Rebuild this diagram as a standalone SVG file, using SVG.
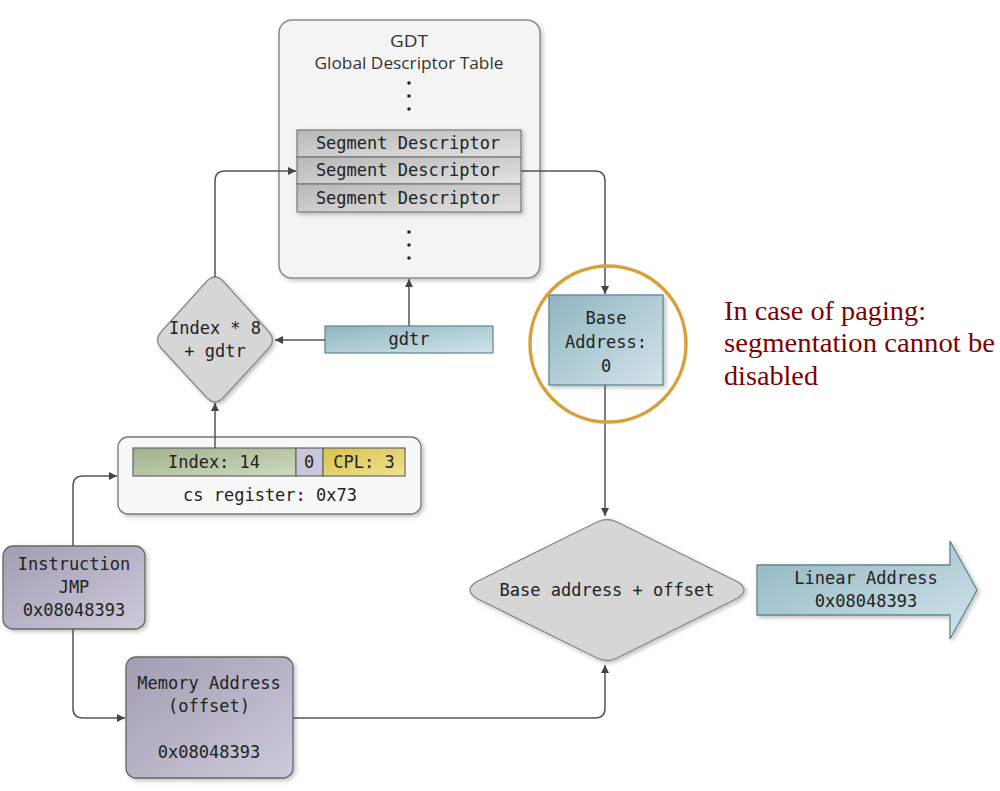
<svg xmlns="http://www.w3.org/2000/svg" width="1000" height="791" viewBox="0 0 1000 791">
<defs>
<style>
.mono{font-family:"DejaVu Sans Mono","Liberation Mono",monospace;font-size:17px;fill:#222;text-anchor:middle}
.sans{font-family:"Open Sans","Noto Sans",sans-serif;font-size:16px;fill:#333;text-anchor:middle}
.note{font-family:"Liberation Serif","DejaVu Serif",serif;font-size:27px;fill:#800000}
.conn{fill:none;stroke:#555;stroke-width:1.5}
.dot{fill:#222}
</style>
<linearGradient id="gGrey" x1="0" y1="0" x2="1" y2="1"><stop offset="0" stop-color="#b8b8b8"/><stop offset="1" stop-color="#e2e2e2"/></linearGradient>
<linearGradient id="gBlue" x1="0" y1="0" x2="1" y2="1"><stop offset="0" stop-color="#8fb5c1"/><stop offset="1" stop-color="#d3e4e9"/></linearGradient>
<linearGradient id="gPurple" x1="0" y1="0" x2="1" y2="1"><stop offset="0" stop-color="#a29db3"/><stop offset="1" stop-color="#cdcad9"/></linearGradient>
<linearGradient id="gGreen" x1="0" y1="0" x2="1" y2="1"><stop offset="0" stop-color="#a0b28b"/><stop offset="1" stop-color="#cfd9c0"/></linearGradient>
<linearGradient id="gYellow" x1="0" y1="0" x2="1" y2="1"><stop offset="0" stop-color="#d6c24f"/><stop offset="1" stop-color="#f0e290"/></linearGradient>
<filter id="sh" x="-10%" y="-10%" width="130%" height="130%"><feDropShadow dx="2" dy="2" stdDeviation="2" flood-color="#000" flood-opacity="0.25"/></filter>
<marker id="arr" viewBox="0 0 10 10" refX="10" refY="5" markerWidth="8" markerHeight="8" markerUnits="userSpaceOnUse" orient="auto"><path d="M0,0 L10,5 L0,10 z" fill="#444"/></marker>
</defs>
<rect width="1000" height="791" fill="#fff"/>

<g id="gdt">
<rect x="279" y="20" width="261" height="258" rx="13" fill="#f4f4f4" stroke="#8a8a8a" stroke-width="1.5" filter="url(#sh)"/>
<text class="sans" x="409" y="47" textLength="38" lengthAdjust="spacingAndGlyphs">GDT</text>
<text class="sans" x="409" y="69" textLength="189" lengthAdjust="spacingAndGlyphs">Global Descriptor Table</text>
<circle class="dot" cx="409" cy="83" r="1.8"/><circle class="dot" cx="409" cy="96" r="1.8"/><circle class="dot" cx="409" cy="109" r="1.8"/>
<circle class="dot" cx="409" cy="232" r="1.8"/><circle class="dot" cx="409" cy="245" r="1.8"/><circle class="dot" cx="409" cy="258" r="1.8"/>
<g filter="url(#sh)">
<rect x="297" y="130" width="224" height="27" fill="url(#gGrey)" stroke="#777" stroke-width="1.2"/>
<rect x="297" y="157" width="224" height="27" fill="url(#gGrey)" stroke="#777" stroke-width="1.2"/>
<rect x="297" y="184" width="224" height="28" fill="url(#gGrey)" stroke="#777" stroke-width="1.2"/>
</g>
<text class="mono" x="408" y="149">Segment Descriptor</text>
<text class="mono" x="408" y="176">Segment Descriptor</text>
<text class="mono" x="408" y="204">Segment Descriptor</text>
</g>

<g id="gdtr">
<rect x="325" y="326" width="168" height="27" fill="url(#gBlue)" stroke="#5d8794" stroke-width="1.2"/>
<text class="mono" x="409" y="345">gdtr</text>
</g>

<g id="index-calc">
<path d="M207,281 Q215,273 223,281 L269,332 Q276,340 269,348 L223,398 Q215,406 207,398 L161,348 Q154,340 161,332 Z" fill="#d6d6d6" stroke="#888" stroke-width="1.3" filter="url(#sh)"/>
<text class="mono" x="215" y="334">Index * 8</text>
<text class="mono" x="215" y="357">+ gdtr</text>
</g>

<g id="cs-register">
<rect x="118" y="437" width="303" height="77" rx="10" fill="#f8f8f8" stroke="#777" stroke-width="1.3" filter="url(#sh)"/>
<rect x="133" y="448" width="163" height="28" fill="url(#gGreen)" stroke="#666" stroke-width="1.2"/>
<rect x="296" y="448" width="27" height="28" fill="#cac7db" stroke="#666" stroke-width="1.2"/>
<rect x="323" y="448" width="82" height="28" fill="url(#gYellow)" stroke="#666" stroke-width="1.2"/>
<text class="mono" x="214" y="468">Index: 14</text>
<text class="mono" x="309" y="468">0</text>
<text class="mono" x="364" y="468">CPL: 3</text>
<text class="mono" x="270" y="501">cs register: 0x73</text>
</g>

<g id="instruction">
<rect x="3" y="546" width="142" height="83" rx="10" fill="url(#gPurple)" stroke="#666" stroke-width="1.3" filter="url(#sh)"/>
<text class="mono" x="74" y="570">Instruction</text>
<text class="mono" x="74" y="593">JMP</text>
<text class="mono" x="74" y="616">0x08048393</text>
</g>

<g id="memory-address">
<rect x="126" y="657" width="167" height="121" rx="10" fill="url(#gPurple)" stroke="#666" stroke-width="1.3" filter="url(#sh)"/>
<text class="mono" x="209" y="689">Memory Address</text>
<text class="mono" x="209" y="712">(offset)</text>
<text class="mono" x="209" y="758">0x08048393</text>
</g>

<g id="base-address">
<rect x="549" y="295" width="114" height="90" fill="url(#gBlue)" stroke="#5d8794" stroke-width="1.3" filter="url(#sh)"/>
<text class="mono" x="606" y="324">Base</text>
<text class="mono" x="606" y="348">Address:</text>
<text class="mono" x="606" y="372">0</text>
</g>

<g id="sum">
<path d="M597,522 Q607,517 617,522 L738,582 Q750,590 738,598 L617,658 Q607,663 597,658 L476,598 Q464,590 476,582 Z" fill="#d6d6d6" stroke="#888" stroke-width="1.3" filter="url(#sh)"/>
<text class="mono" x="607" y="596">Base address + offset</text>
</g>

<g id="linear-address">
<path d="M757,565 H950 V541 L977,590 L950,639 V615 H757 Z" fill="url(#gBlue)" stroke="#5d8794" stroke-width="1.3" filter="url(#sh)"/>
<text class="mono" x="866" y="584">Linear Address</text>
<text class="mono" x="866" y="607">0x08048393</text>
</g>

<g id="connectors">
<path class="conn" d="M215,277 V181 Q215,171 225,171 H296" marker-end="url(#arr)"/>
<path class="conn" d="M521,171 H595 Q605,171 605,181 V294" marker-end="url(#arr)"/>
<path class="conn" d="M409,326 V279" marker-end="url(#arr)"/>
<path class="conn" d="M325,340 H275" marker-end="url(#arr)"/>
<path class="conn" d="M215,448 V403" marker-end="url(#arr)"/>
<path class="conn" d="M73,546 V486 Q73,476 83,476 H117" marker-end="url(#arr)"/>
<path class="conn" d="M73,629 V708 Q73,718 83,718 H125" marker-end="url(#arr)"/>
<path class="conn" d="M605,385 V516" marker-end="url(#arr)"/>
<path class="conn" d="M293,718 H595 Q605,718 605,708 V665" marker-end="url(#arr)"/>
</g>

<g id="highlight">
<circle cx="608" cy="344" r="78" fill="none" stroke="#d9a03a" stroke-width="3.5"/>
</g>

<g id="note">
<text class="note" x="724" y="320" textLength="202" lengthAdjust="spacingAndGlyphs">In case of paging:</text>
<text class="note" x="724" y="352" textLength="271" lengthAdjust="spacingAndGlyphs">segmentation cannot be</text>
<text class="note" x="724" y="385" textLength="94" lengthAdjust="spacingAndGlyphs">disabled</text>
</g>
</svg>
